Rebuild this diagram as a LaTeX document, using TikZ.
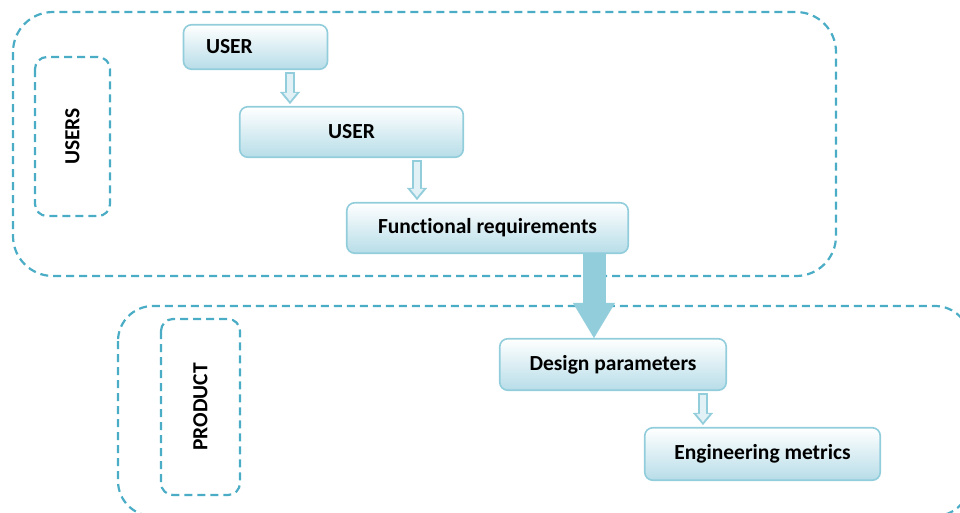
\documentclass[tikz,border=0pt]{standalone}
\usepackage{fontspec}
\setmainfont{Carlito}[Ligatures={NoCommon,NoRare}]
\usetikzlibrary{arrows.meta}
\definecolor{zoneline}{HTML}{4BACC6}
\definecolor{boxline}{HTML}{92CDDC}
\definecolor{boxfill}{HTML}{B7DDE8}
\definecolor{arrowfill}{HTML}{E2F1F6}
\tikzset{
  stepbox/.style={draw=boxline, line width=1.6pt, rounded corners=8pt,
    top color=white, bottom color=boxfill, font=\fontsize{21.5}{24}\selectfont\bfseries},
  zone/.style={draw=zoneline, line width=2.2pt, dash pattern=on 8pt off 5pt},
  tagbox/.style={zone, rounded corners=12pt, rotate=90, font=\fontsize{21.5}{24}\selectfont\bfseries},
  thinarrow/.style={draw=boxline, line width=10pt, shorten <=2pt, shorten >=2pt,
    -{Triangle[width=20pt,length=12pt,line width=0.1pt]},
    postaction={draw=arrowfill, line width=6pt, shorten <=3.5pt, shorten >=5pt,
      -{Triangle[width=13pt,length=8pt,line width=0.1pt]}}},
  bigarrow/.style={draw=boxline, line width=23pt,
    -{Triangle[width=42pt,length=35pt,line width=0.1pt]}}
}
\begin{document}
\begin{tikzpicture}[x=1pt,y=-1pt]
  \useasboundingbox (0,0) rectangle (960,512);
  \clip (0,0) rectangle (960,512);
  % the two zones
  \draw[zone, rounded corners=40pt] (13,12) rectangle (836,276);
  \draw[zone, rounded corners=35pt] (118,306) rectangle (970,516);
  \node[tagbox, minimum width=159pt, minimum height=75pt] (userstag) at (72.5,136.5) {USERS};
  \node[tagbox, minimum width=176pt, minimum height=79pt] (producttag) at (200.5,407) {PRODUCT};
  % the steps
  \node[stepbox, text width=99pt, inner xsep=22.5pt, minimum height=44.5pt] (user1) at (255.5,47) {USER};
  \node[stepbox, minimum width=223.5pt, minimum height=50.5pt] (user2) at (351.5,132) {USER};
  \node[stepbox, minimum width=281.5pt, minimum height=50.5pt] (funreq) at (487.5,228) {Functional requirements};
  \node[stepbox, minimum width=226.5pt, minimum height=51.5pt] (design) at (613,364.5) {Design parameters};
  \node[stepbox, minimum width=235.5pt, minimum height=52.5pt] (engmet) at (762.5,454) {Engineering metrics};
  % the arrows
  \draw[thinarrow] ([xshift=34.5pt]user1.south) -- ([xshift=-61.5pt]user2.north);
  \draw[thinarrow] ([xshift=65.5pt]user2.south) -- ([xshift=-70.5pt]funreq.north);
  \draw[thinarrow] ([xshift=90pt]design.south) -- ([xshift=-59.5pt]engmet.north);
  \draw[bigarrow] ([xshift=106.5pt]funreq.south) -- ([xshift=-19pt]design.north);
\end{tikzpicture}
\end{document}
